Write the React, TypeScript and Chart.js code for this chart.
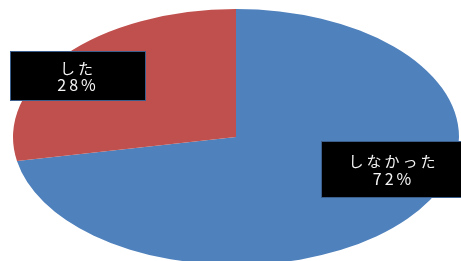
import React, { useEffect, useRef } from "react";
import { Chart, registerables } from "chart.js";

Chart.register(...registerables);

const categories = ["しなかった", "した"];
const values = [72, 28];
const percentLabels = ["72%", "28%"];
const colors = ["#4F81BD", "#C0504D"];

// layout (CSS px)
const W = 461;
const H = 274;
const CX = 236;
const CY = 137;
const RX = 223;
const RY = 128;
const labelBoxes = [
  { x: 321, y: 141, w: 145, h: 57 },
  { x: 10, y: 51, w: 136, h: 50 },
];

export default function App() {
  const ref = useRef<HTMLCanvasElement>(null);

  useEffect(() => {
    if (!ref.current) return;
    const sx = RX / RY;
    const ellipsePlugin = {
      id: "ellipse",
      beforeDatasetsDraw(chart: any) {
        const ctx = chart.ctx;
        const a = chart.chartArea;
        const cx = (a.left + a.right) / 2;
        const cy = (a.top + a.bottom) / 2;
        ctx.save();
        ctx.translate(cx, cy);
        ctx.scale(sx, 1);
        ctx.translate(-cx, -cy);
      },
      afterDatasetsDraw(chart: any) {
        chart.ctx.restore();
      },
    };
    const labelPlugin = {
      id: "boxLabels",
      afterDraw(chart: any) {
        const ctx = chart.ctx;
        const labels = chart.data.labels as string[];
        labels.forEach((lab: string, i: number) => {
          const b = labelBoxes[i];
          ctx.save();
          ctx.fillStyle = "#000";
          ctx.fillRect(b.x, b.y, b.w, b.h);
          ctx.strokeStyle = "#3B5E8C";
          ctx.lineWidth = 1;
          ctx.strokeRect(b.x + 0.5, b.y + 0.5, b.w - 1, b.h - 1);
          ctx.fillStyle = "#f4f4f4";
          ctx.textAlign = "center";
          ctx.textBaseline = "middle";
          const cx = b.x + b.w / 2;
          const cy = b.y + b.h / 2;
          ctx.font = "15px 'Noto Sans CJK JP'";
          (ctx as any).letterSpacing = "3px";
          ctx.fillText(lab, cx, cy - 8);
          ctx.font = "16px 'Noto Sans CJK JP'";
          (ctx as any).letterSpacing = "3px";
          ctx.fillText(percentLabels[i], cx, cy + 9);
          ctx.restore();
        });
      },
    };
    const chart = new Chart(ref.current, {
      type: "pie",
      data: {
        labels: categories,
        datasets: [
          {
            data: values,
            backgroundColor: colors,
            borderWidth: 0,
            hoverOffset: 0,
            offset: 0,
            clip: false as any,
          },
        ],
      },
      options: {
        animation: false,
        responsive: false,
        devicePixelRatio: 1,
        layout: {
          padding: {
            left: CX - RY,
            right: W - (CX + RY),
            top: CY - RY,
            bottom: H - (CY + RY),
          },
        },
        plugins: {
          legend: { display: false },
          tooltip: { enabled: false },
        },
        events: [],
      },
      plugins: [ellipsePlugin, labelPlugin],
    });
    return () => chart.destroy();
  }, []);

  return (
    <div
      style={{
        position: "fixed",
        left: 0,
        top: 0,
        width: W,
        height: 261,
        overflow: "hidden",
        background: "#fff",
      }}
    >
      <canvas ref={ref} width={W} height={H} style={{ width: W, height: H }} />
    </div>
  );
}
